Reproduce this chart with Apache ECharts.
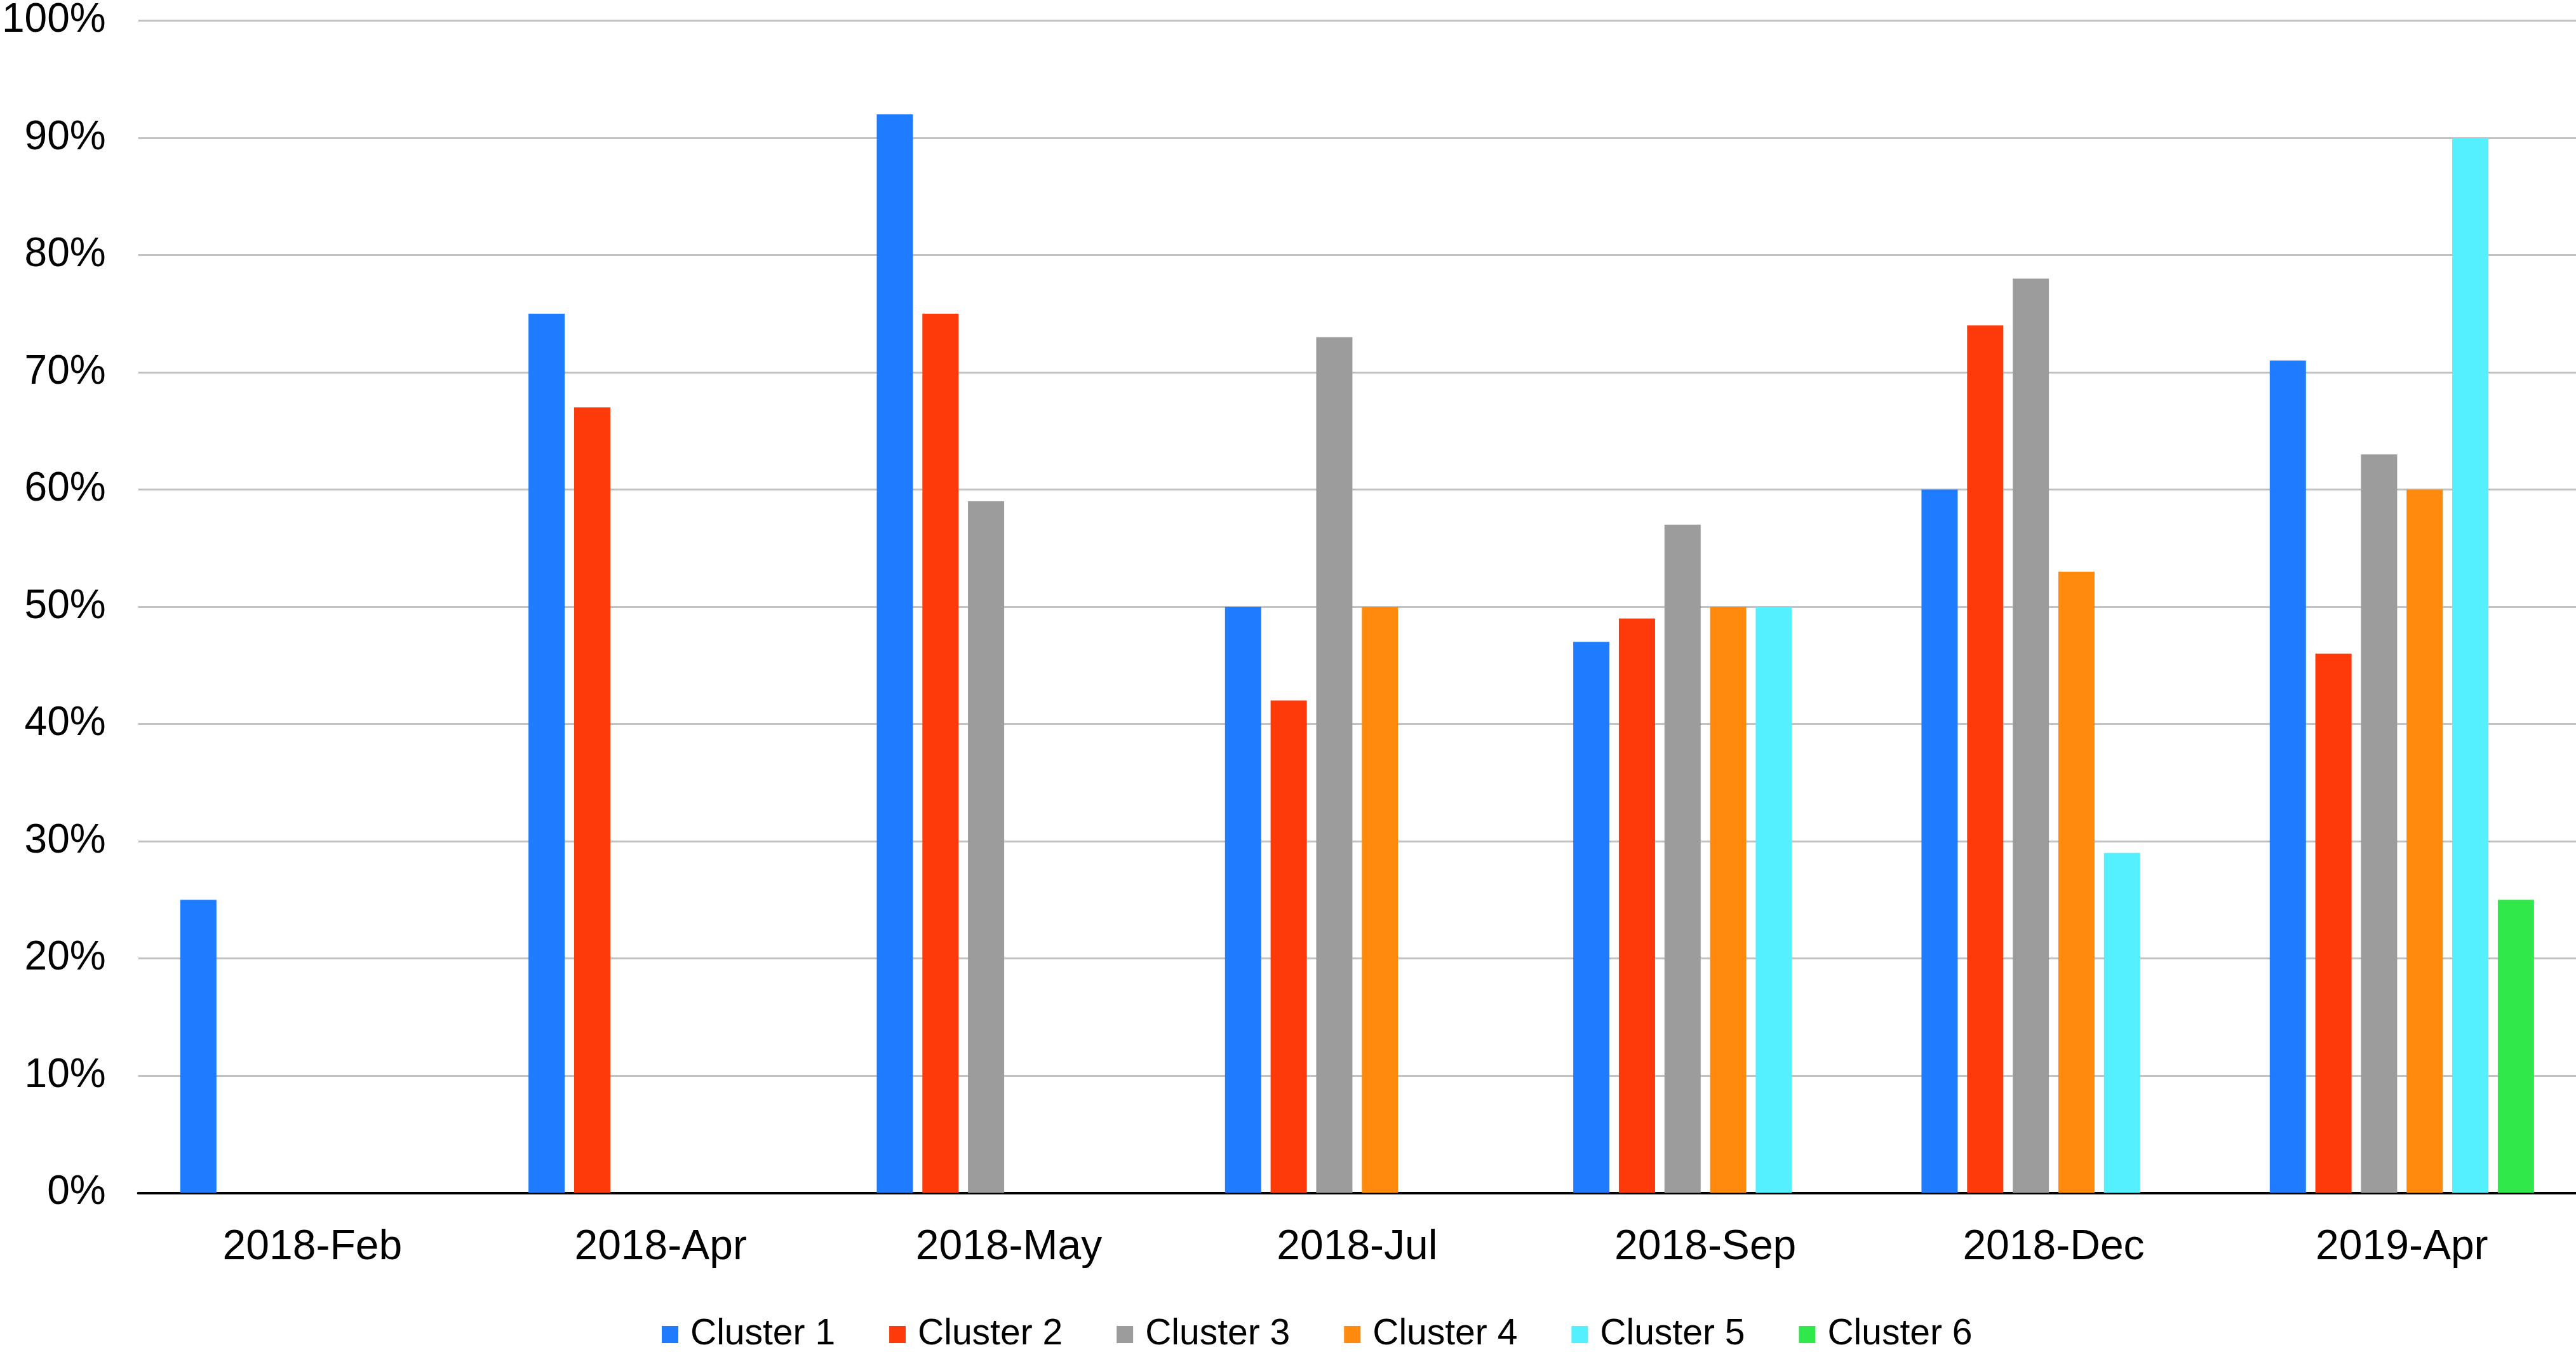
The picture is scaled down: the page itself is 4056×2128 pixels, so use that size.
<!DOCTYPE html>
<html>
<head>
<meta charset="utf-8">
<script src="https://cdn.jsdelivr.net/npm/echarts@6/dist/echarts.min.js"></script>
<style>html,body{margin:0;padding:0;background:#fff;}#chart{width:4056px;height:2128px;}</style>
</head>
<body>
<div id="chart"></div>
<script>
const categories = ['2018-Feb', '2018-Apr', '2018-May', '2018-Jul', '2018-Sep', '2018-Dec', '2019-Apr'];
const seriesNames = ['Cluster 1', 'Cluster 2', 'Cluster 3', 'Cluster 4', 'Cluster 5', 'Cluster 6'];
const cluster1 = [25, 75, 92, 50, 47, 60, 71];
const cluster2 = [null, 67, 75, 42, 49, 74, 46];
const cluster3 = [null, null, 59, 73, 57, 78, 63];
const cluster4 = [null, null, null, 50, 50, 53, 60];
const cluster5 = [null, null, null, null, 50, 29, 90];
const cluster6 = [null, null, null, null, null, null, 25];
const colors = ['#1F7BFF', '#FF3A0A', '#9C9C9C', '#FF8A0E', '#55F0FF', '#31E84A'];
const yTicks = [0, 10, 20, 30, 40, 50, 60, 70, 80, 90, 100];

const allData = [cluster1, cluster2, cluster3, cluster4, cluster5, cluster6];
const font = '"Liberation Sans", Arial, Helvetica, sans-serif';

const chart = echarts.init(document.getElementById('chart'), null, {renderer: 'canvas'});
chart.setOption({
  animation: false,
  backgroundColor: '#ffffff',
  color: colors,
  grid: {left: 217, right: 0, top: 32.5, bottom: 250.5, containLabel: false},
  legend: {
    data: seriesNames,
    left: 1037,
    top: 2067,
    itemWidth: 26,
    itemHeight: 27,
    itemGap: 85,
    icon: 'rect',
    textStyle: {fontFamily: font, fontSize: 57, color: '#000', padding: [0, 0, 0, 14]}
  },
  xAxis: {
    type: 'category',
    data: categories,
    axisLine: {lineStyle: {color: '#000', width: 4}},
    axisTick: {show: false},
    axisLabel: {fontFamily: font, fontSize: 66, color: '#000', margin: 53}
  },
  yAxis: {
    type: 'value',
    min: yTicks[0],
    max: yTicks[yTicks.length - 1],
    interval: 10,
    axisLine: {show: false},
    axisTick: {show: false},
    splitLine: {lineStyle: {color: '#C2C2C2', width: 3}},
    axisLabel: {fontFamily: font, fontSize: 64, color: '#000', margin: 51, padding: [8, 0, 0, 0], formatter: '{value}%'}
  },
  series: seriesNames.map((name, i) => ({
    name: name,
    type: 'bar',
    data: allData[i],
    barWidth: 57,
    barGap: '26%',
    itemStyle: {color: colors[i]}
  }))
});
</script>
</body>
</html>
